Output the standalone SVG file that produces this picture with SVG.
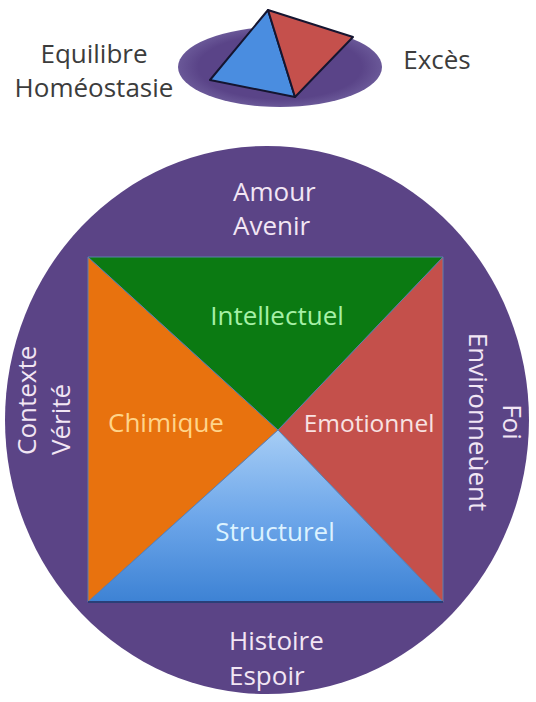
<svg xmlns="http://www.w3.org/2000/svg" width="536" height="702" viewBox="0 0 536 702">
  <defs>
    <linearGradient id="blueGrad" x1="0" y1="0" x2="0" y2="1">
      <stop offset="0" stop-color="#a6cdf5"/>
      <stop offset="0.5" stop-color="#6ea7ea"/>
      <stop offset="1" stop-color="#3d82d4"/>
    </linearGradient>
    <radialGradient id="ovalGrad" cx="0.5" cy="0.5" r="0.5">
      <stop offset="0.8" stop-color="#5a4488"/>
      <stop offset="1" stop-color="#6a5898"/>
    </radialGradient>
  </defs>
  <style>
    text { font-family: "Open Sans", "Noto Sans", "Liberation Sans", sans-serif; font-size: 26px; }
    .dark { fill: #3c3c3c; }
    .outer { fill: #f2e6f4; }
    .quad { stroke: #5f7fae; stroke-width: 1; stroke-linejoin: round; }
  </style>
  <rect width="536" height="702" fill="#ffffff"/>

  <g id="legend">
    <ellipse cx="280" cy="67" rx="102" ry="40" fill="url(#ovalGrad)"/>
    <polygon points="268,10 210,80 295,97" fill="#4a8de0" stroke="#151530" stroke-width="2" stroke-linejoin="round"/>
    <polygon points="268,10 295,97 353,37" fill="#c5504c" stroke="#151530" stroke-width="2" stroke-linejoin="round"/>
    <text class="dark" x="94" y="63" text-anchor="middle">Equilibre</text>
    <text class="dark" x="94" y="97" text-anchor="middle">Homéostasie</text>
    <text class="dark" x="437" y="69" text-anchor="middle">Excès</text>
  </g>

  <g id="circle">
    <ellipse cx="267" cy="420" rx="262" ry="274" fill="#5b4486"/>
    <text class="outer" x="233" y="201">Amour</text>
    <text class="outer" x="233" y="235">Avenir</text>
    <text class="outer" x="229" y="650">Histoire</text>
    <text class="outer" x="229" y="685">Espoir</text>
    <text class="outer" transform="translate(36,455) rotate(-90)">Contexte</text>
    <text class="outer" transform="translate(70,455) rotate(-90)">Vérité</text>
    <text class="outer" transform="translate(503,422) rotate(90)" text-anchor="middle">Foi</text>
    <text class="outer" transform="translate(469,422) rotate(90)" text-anchor="middle">Environneùent</text>
  </g>

  <g id="chimique">
    <polygon class="quad" points="88,257 278,430 88,602" fill="#e8720e"/>
    <text x="166" y="432" text-anchor="middle" fill="#ffd48a">Chimique</text>
  </g>
  <g id="emotionnel">
    <polygon class="quad" points="443,257 443,602 278,430" fill="#c4504b"/>
    <text x="369" y="432" text-anchor="middle" fill="#f8e2e2" style="font-size:24.5px">Emotionnel</text>
  </g>
  <g id="intellectuel">
    <polygon class="quad" points="88,257 443,257 278,430" fill="#0b7a12"/>
    <text x="277" y="325" text-anchor="middle" fill="#a6f0a6">Intellectuel</text>
  </g>
  <g id="structurel">
    <polygon class="quad" points="278,430 443,602 88,602" fill="url(#blueGrad)"/>
    <line x1="88" y1="602" x2="443" y2="602" stroke="#2a3f78" stroke-width="2"/>
    <text x="275" y="541" text-anchor="middle" fill="#dcf2ff">Structurel</text>
  </g>
</svg>
